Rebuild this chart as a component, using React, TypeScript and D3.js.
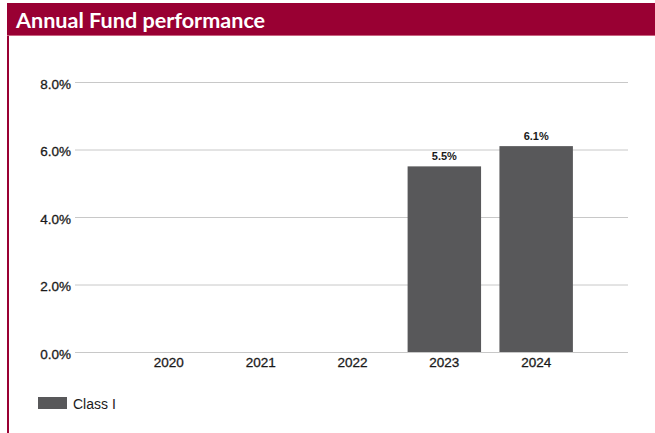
import { useEffect, useRef } from 'react';
import * as d3 from 'd3';

const years = ['2020', '2021', '2022', '2023', '2024'];
const classI: (number | null)[] = [null, null, null, 5.5, 6.1];
const yTicks = [0, 2, 4, 6, 8];
const title = 'Annual Fund performance';
const seriesName = 'Class I';

const W = 655;
const H = 433;

export default function App() {
  const svgRef = useRef<SVGSVGElement>(null);

  useEffect(() => {
    if (!svgRef.current) return;
    const svg = d3.select(svgRef.current);
    svg.selectAll('*').remove();

    const red = '#990033';
    const barColor = '#58585a';
    const font = '"Liberation Sans", Arial, sans-serif';
    const ink = '#1a1a1a';

    // header band
    svg.append('rect').attr('x', 7).attr('y', 3).attr('width', W - 7).attr('height', 32).attr('fill', red);
    svg.append('line').attr('x1', 7).attr('x2', W).attr('y1', 35.5).attr('y2', 35.5)
      .attr('stroke', '#c9637f').attr('stroke-width', 1);
    svg.append('rect').attr('x', 7).attr('y', 36).attr('width', 2).attr('height', H - 36).attr('fill', red);
    svg.append('text')
      .attr('x', 16).attr('y', 28)
      .attr('fill', '#fff')
      .attr('font-family', 'Lato, "Open Sans", sans-serif')
      .attr('font-weight', 700)
      .attr('font-size', '21.6px')
      .text(title);

    const gridLeft = 75;
    const left = 77;
    const right = 628;
    const top = 82;
    const bottom = 352;

    const y = d3.scaleLinear().domain([0, 8]).range([bottom, top]);
    const x = d3.scalePoint<string>().domain(['_a', ...years, '_b']).range([left, right]);
    const bw = x.step() * 0.8;

    // gridlines + y labels
    const yAxis = svg.append('g')
      .attr('transform', `translate(${gridLeft},0)`)
      .call(d3.axisLeft(y).tickValues(yTicks).tickSize(-(right - gridLeft)).tickPadding(4)
        .tickFormat(d => `${(d as number).toFixed(1)}%`));
    yAxis.select('.domain').remove();
    yAxis.selectAll('line').attr('stroke', '#c8c8c8').attr('stroke-width', 1);
    yAxis.selectAll('text')
      .attr('fill', ink)
      .attr('stroke', ink)
      .attr('stroke-width', 0.3)
      .attr('font-family', font)
      .attr('font-size', '13.5px')
      .attr('dy', '0.45em');

    // bars
    const data = years.map((yr, i) => ({ yr, v: classI[i] })).filter(d => d.v != null) as { yr: string; v: number }[];
    svg.append('g').selectAll('rect').data(data).join('rect')
      .attr('x', d => (x(d.yr) as number) - bw / 2)
      .attr('width', bw)
      .attr('y', d => y(d.v))
      .attr('height', d => bottom - y(d.v))
      .attr('fill', barColor);

    svg.append('g').selectAll('text').data(data).join('text')
      .attr('x', d => x(d.yr) as number)
      .attr('y', d => y(d.v) - 6)
      .attr('text-anchor', 'middle')
      .attr('fill', ink)
      .attr('font-family', font)
      .attr('font-size', '11px')
      .attr('font-weight', 700)
      .text(d => `${d.v.toFixed(1)}%`);

    // x labels
    svg.append('g').selectAll('text').data(years).join('text')
      .attr('x', d => x(d) as number)
      .attr('y', bottom + 15)
      .attr('text-anchor', 'middle')
      .attr('fill', ink)
      .attr('stroke', ink)
      .attr('stroke-width', 0.3)
      .attr('font-family', font)
      .attr('font-size', '13.5px')
      .text(d => d);

    // legend
    svg.append('rect').attr('x', 38).attr('y', 397).attr('width', 29).attr('height', 12).attr('fill', barColor);
    svg.append('text')
      .attr('x', 73).attr('y', 409)
      .attr('fill', ink)
      .attr('font-family', font)
      .attr('font-size', '14px')
      .text(seriesName);
  }, []);

  return (
    <svg ref={svgRef} width={W} height={H}
      style={{ position: 'absolute', left: 0, top: 0, background: '#fff' }} />
  );
}
